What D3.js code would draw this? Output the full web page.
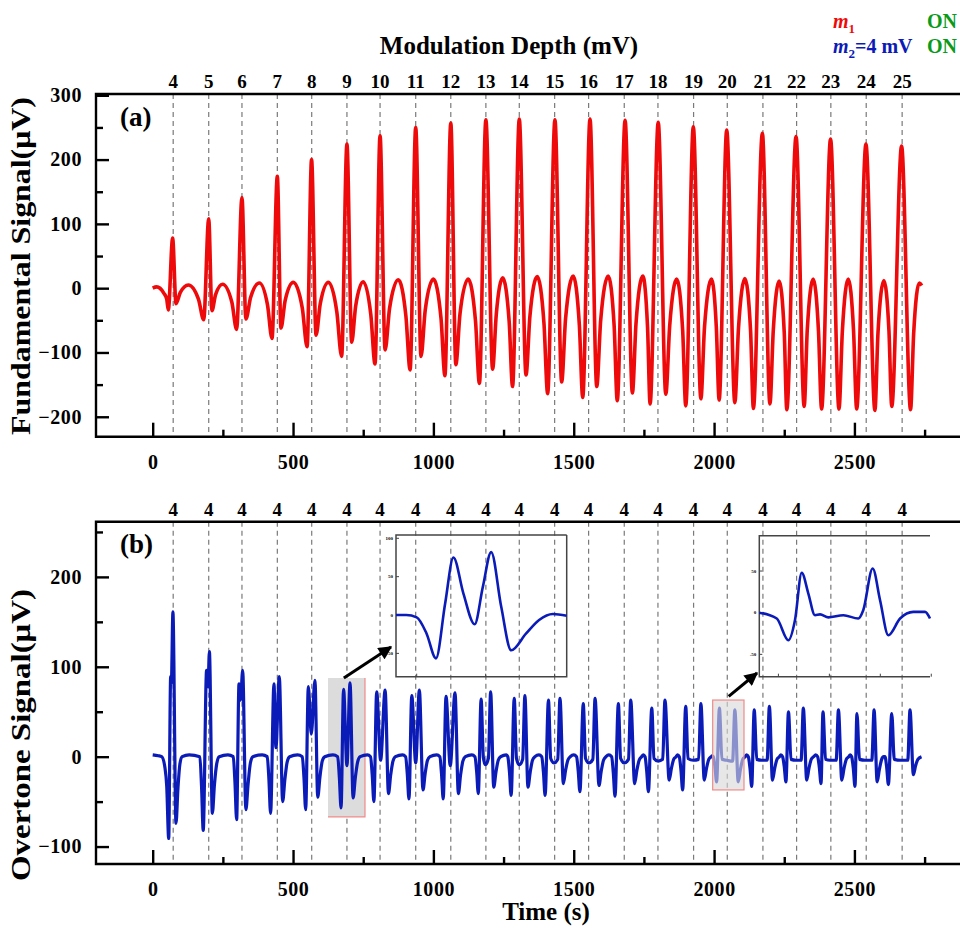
<!DOCTYPE html>
<html><head><meta charset="utf-8">
<script src="https://cdn.jsdelivr.net/npm/d3@7"></script>
<style>
body{margin:0;background:#fff}
svg{display:block}
text{font-family:"Liberation Serif","Times New Roman",serif;font-weight:bold;fill:#000}
</style></head>
<body><svg id="c" width="960" height="926"></svg>
<script>
// ---------------- data ----------------
const depthTimes = [73,199.6,318,444,566.5,692,810,937,1062,1187,1306,1432,1553,1680,1800,1927,2047,2174,2294,2416,2542,2670];
const depthLabelsA = ["4","5","6","7","8","9","10","11","12","13","14","15","16","17","18","19","20","21","22","23","24","25"];
const depthLabelsB = ["4","4","4","4","4","4","4","4","4","4","4","4","4","4","4","4","4","4","4","4","4","4"];
const xTicks = [0,500,1000,1500,2000,2500];
const xMinorTicks = [250,750,1250,1750,2250,2750];
const yTicksA = [300,200,100,0,-100,-200];
const yMinorA = [250,150,50,-50,-150];
const yTicksB = [200,100,0,-100];
const yMinorB = [250,150,50,-50];

// Fundamental signal (a): [time s, µV]
const fundamental = [[0,0],[14,2],[40,-8],[50,-17],[55.6,-34],[71,78],[83,-24],[98,-7],[127,5],[163,-17],[181.7,-49],[199.5,108],[211,-35],[224,-10],[249,6],[282,-22],[299,-64],[318,141],[332,-48],[349,-14],[380,8],[409,-26],[425,-78],[444,174],[457,-62],[472,-19],[501,9],[533,-31],[550,-91],[566,200],[582,-73],[597,-24],[626,9],[656,-37],[673,-106],[692,224],[709,-84],[723,-28],[750,10],[777,-41],[792,-118],[810,237],[828,-96],[844,-31],[875,13],[902,-43],[917,-127],[937,250],[956,-106],[971,-34],[1000,14],[1027,-46],[1041,-136],[1062,257],[1080,-119],[1095,-39],[1124,14],[1150,-51],[1164,-148],[1187,262],[1211,-126],[1224,-41],[1247,16],[1270,-52],[1282,-153],[1306,263],[1330,-135],[1344,-43],[1370,18],[1394,-55],[1407,-164],[1433,262],[1457,-146],[1471,-47],[1498,19],[1520,-57],[1532,-170],[1558,263],[1582,-153],[1596,-50],[1623,19],[1644,-59],[1655,-175],[1683,261],[1709,-163],[1722,-54],[1746,19],[1763,-61],[1772,-180],[1801,258],[1828,-165],[1842,-58],[1867,14],[1888,-65],[1899,-183],[1926,251],[1953,-172],[1966,-60],[1991,14],[2008,-61],[2018,-174],[2045,246],[2074,-178],[2087,-62],[2110,15],[2130,-66],[2140,-187],[2172,241],[2199,-180],[2211,-65],[2232,11],[2250,-69],[2259,-189],[2292,236],[2321,-184],[2332,-65],[2353,14],[2372,-67],[2383,-188],[2415,232],[2445,-188],[2457,-67],[2478,14],[2497,-67],[2508,-188],[2541,224],[2573,-190],[2584,-69],[2605,12],[2623,-66],[2633,-184],[2668,221],[2700,-189],[2711,-71],[2731,8],[2740,4]];

// Overtone signal (b): [time s, µV]
const overtone = [[0,2],[20,1],[32,0],[44,-13],[50,-33],[57,-91],[64,89],[66.5,82],[72,161],[83,-74],[90,-35],[97,-8],[105,0],[130,2],
[168,0],[174,-33],[180,-82],[192,96],[197,78],[202,117],[212.5,-63],[220,-31],[228,-8],[237,0],[268,2],
[287,0],[293,-28],[299,-70],[307.5,81],[313,63],[320.5,96],[332,-59],[340,-30],[348,-7],[357,0],[390,2],
[408,0],[414,-25],[420,-63],[432,81],[439,10],[451,89],[463,-50],[471,-25],[479,-6],[488,0],[516,2],
[533,0],[539,-24],[545,-59],[554.5,78],[565,25],[578,85],[588,-45],[596,-22],[604,-5],[613,0],[642,2],
[659,0],[665,-23],[671,-57],[680,75],[692,-10],[703,82],[714,-46],[722,-23],[730,-6],[739,0],[765,2],
[776,0],[782,-20],[788,-50],[798,72],[812,-4],[828,74],[840,-41],[848,-20],[856,-5],[865,0],[890,2],
[901,0],[907,-19],[913,-47],[923,68],[937,-7],[950,74],[963,-37],[971,-18],[979,-4],[988,0],[1012,2],
[1023,0],[1029,-19],[1035,-47],[1045,67],[1060,-10],[1077,71],[1089,-41],[1097,-20],[1105,-5],[1114,0],[1137,2],
[1148,0],[1154,-16],[1160,-41],[1170,64],[1178,-1],[1185,-9],[1196,-2],[1204,72],[1215,-34],[1223,-17],[1231,-4],[1240,0],[1260,2],
[1265,0],[1271,-17],[1277,-43],[1288,65],[1296,-2],[1306,-9],[1318,-3],[1326,68],[1337,-34],[1345,-17],[1353,-4],[1362,0],[1376,2],
[1386,0],[1392,-17],[1398,-43],[1410,63],[1418,-2],[1430,-7],[1443,-3],[1451,65],[1463,-30],[1471,-15],[1479,-4],[1488,0],[1500,2],
[1510,0],[1516,-16],[1522,-39],[1534,59],[1542,-2],[1554,-7],[1568,-3],[1576,65],[1590,-32],[1598,-16],[1606,-4],[1615,0],[1625,2],
[1635,0],[1641,-18],[1647,-44],[1659,59],[1667,-2],[1680,-7],[1695,-3],[1703,63],[1717,-30],[1725,-15],[1733,-4],[1742,0],[1748,2],
[1754,0],[1760,-16],[1766,-39],[1778,54],[1786,-2],[1801,-5],[1817,-3],[1825,63],[1840,-26],[1848,-13],[1856,-3],[1865,0],[1870,2],
[1876,0],[1882,-15],[1888,-37],[1899,56],[1907,-2],[1926,-4],[1945,-3],[1953,59],[1965,-26],[1973,-13],[1981,-3],[1990,0],[1993,1],
[1997,0],[2003,-11],[2009,-28],[2019,54],[2028,-3],[2045,-4],[2066,-5],[2074,52],[2086,-28],[2094,-14],[2102,-3],[2111,0],[2116,2],
[2122,0],[2128,-13],[2134,-33],[2143,52],[2152,-3],[2170,-4],[2189,-4],[2197,56],[2208,-26],[2216,-13],[2224,-3],[2233,0],[2238,2],
[2244,0],[2250,-11],[2256,-28],[2265,50],[2274,-3],[2292,-4],[2310,-4],[2318,54],[2330,-26],[2338,-13],[2346,-3],[2355,0],[2362,2],
[2369,0],[2375,-12],[2381,-30],[2388,50],[2397,-3],[2413,-4],[2435,-4],[2443,52],[2455,-26],[2463,-13],[2471,-3],[2480,0],[2485,2],
[2490,0],[2496,-13],[2502,-33],[2509,48],[2518,-3],[2538,-4],[2562,-4],[2570,52],[2581,-28],[2589,-14],[2597,-3],[2604,0],
[2609,0],[2615,-12],[2621,-31],[2633,48],[2642,-3],[2665,-4],[2690,-4],[2698,52],[2710,-20],[2718,-10],[2726,-3],[2739,0]];

// Inset zooms of the overtone signal
const inset1 = [[648,0],[654,0],[660,-3],[665.7,-24],[671.2,-56.5],[676.5,15],[681.3,75],[687.1,28],[693.6,-12],[698.4,37],[703.2,82],[709,11],[714.8,-46],[723.5,-24],[731,-6.5],[739,1.3],[747,-1]];
const inset2 = [[1985,0],[1998.7,-7],[2007.8,-33],[2013,-9],[2018.3,48],[2023.5,23],[2028.7,-3],[2032.7,-2],[2039.2,-5.6],[2051,-3],[2062.7,-7],[2066.6,3],[2074,53],[2079.8,15],[2086.3,-27],[2095.5,-7],[2105.9,1],[2115.1,1],[2119,-7]];
const inset1Ticks = [100,50,0,-50];
const inset2Ticks = [50,0,-50];
const inset1XTicks = [660,700,740];
const inset2XTicks = [2000,2040,2080,2120];
const zoomBox1 = {t0:624.5, t1:756.3, v0:-67, v1:87.5};
const zoomBox2 = {t0:1995, t1:2106.6, v0:-37, v1:63};

// ---------------- drawing ----------------
const svg = d3.select("#c");
const RED = "#ee0a0a", BLUE = "#0b1bb8", GREEN = "#0a9a1a";
const x = d3.scaleLinear().domain([-202, 2869]).range([96, 958]);
const yA = d3.scaleLinear().domain([-231, 302]).range([436.7, 94]);
const yB = d3.scaleLinear().domain([-119.4, 261.4]).range([864, 521.7]);

function panel(y, series, color, lw, yMajor, yMinor, labels, tag, tagY, topLabelY, drawSeries) {
  const [yb, yt] = y.range();
  const g = svg.append("g");
  // dashed lines
  g.selectAll("line.dash").data(depthTimes).join("line")
    .attr("x1", d => x(d)).attr("x2", d => x(d)).attr("y1", yt).attr("y2", yb)
    .attr("stroke", "#7a7a7a").attr("stroke-width", 1.2).attr("stroke-dasharray", "5,4");
  // top labels
  g.selectAll("text.top").data(depthTimes).join("text")
    .attr("x", d => x(d)).attr("y", topLabelY).attr("text-anchor", "middle")
    .attr("font-size", 19).text((d, i) => labels[i]);
  // x axis ticks
  const ax = g.append("g").attr("transform", `translate(0,${yb})`)
    .call(d3.axisBottom(x).tickValues(xTicks).tickSize(-14).tickPadding(18).tickFormat(d3.format("d")));
  ax.select(".domain").remove();
  ax.selectAll("line").attr("stroke", "#000").attr("stroke-width", 2.4);
  ax.selectAll("text").attr("font-size", 20).attr("font-family", '"Liberation Serif",serif').attr("font-weight", "bold").attr("letter-spacing", 0.6);
  const axm = g.append("g").attr("transform", `translate(0,${yb})`)
    .call(d3.axisBottom(x).tickValues(xMinorTicks).tickSize(-7).tickFormat(""));
  axm.select(".domain").remove();
  axm.selectAll("line").attr("stroke", "#000").attr("stroke-width", 2.4);
  // y axis ticks
  const ay = g.append("g").attr("transform", `translate(96,0)`)
    .call(d3.axisLeft(y).tickValues(yMajor).tickSize(-13).tickPadding(14).tickFormat(d3.format("d")));
  ay.select(".domain").remove();
  ay.selectAll("line").attr("stroke", "#000").attr("stroke-width", 2.4);
  ay.selectAll("text").attr("font-size", 20).attr("font-family", '"Liberation Serif",serif').attr("font-weight", "bold").attr("letter-spacing", 0.6);
  const aym = g.append("g").attr("transform", `translate(96,0)`)
    .call(d3.axisLeft(y).tickValues(yMinor).tickSize(-7).tickFormat(""));
  aym.select(".domain").remove();
  aym.selectAll("line").attr("stroke", "#000").attr("stroke-width", 2.4);
  // series
  if (drawSeries) drawSeries(g);
  g.append("path").datum(series)
    .attr("d", d3.line().x(d => x(d[0])).y(d => y(d[1])).curve(d3.curveMonotoneX))
    .attr("fill", "none").attr("stroke", color).attr("stroke-width", lw).attr("stroke-linejoin", "round");
  // frame
  g.append("path").attr("d", `M960,${yt}H96V${yb}H960`).attr("fill", "none").attr("stroke", "#000").attr("stroke-width", 2.4);
  g.append("text").attr("x", 120).attr("y", tagY).attr("font-size", 27).text(tag);
  return g;
}

// panel (a)
panel(yA, fundamental, RED, 3.6, yTicksA, yMinorA, depthLabelsA, "(a)", 126, 88);
// panel (b)
const gB = panel(yB, overtone, BLUE, 3.2, yTicksB, yMinorB, depthLabelsB, "(b)", 553, 516, g => {
  g.append("rect").attr("x", x(zoomBox1.t0)).attr("y", yB(zoomBox1.v1))
    .attr("width", x(zoomBox1.t1) - x(zoomBox1.t0)).attr("height", yB(zoomBox1.v0) - yB(zoomBox1.v1))
    .attr("fill", "#dcdcdc");
  g.append("path").attr("d", `M${x(zoomBox1.t1)},${yB(zoomBox1.v1)}V${yB(zoomBox1.v0)}H${x(zoomBox1.t0)}`)
    .attr("fill", "none").attr("stroke", "#f08a8a").attr("stroke-width", 1.2);
});
// box 2 on top of the curve
gB.append("rect").attr("x", x(zoomBox2.t0)).attr("y", yB(zoomBox2.v1))
  .attr("width", x(zoomBox2.t1) - x(zoomBox2.t0)).attr("height", yB(zoomBox2.v0) - yB(zoomBox2.v1))
  .attr("fill", "#d8d8d8").attr("fill-opacity", 0.62).attr("stroke", "#f08a8a").attr("stroke-width", 1.2);

// insets
function inset(data, xd, xr, yd, yr, yt, xt, rightBorder) {
  const ix = d3.scaleLinear().domain(xd).range(xr);
  const iy = d3.scaleLinear().domain(yd).range(yr);
  const g = svg.append("g");
  g.append("path").attr("d", `M${xr[1]},${yr[1]}H${xr[0]}V${yr[0]}H${xr[1]}` + (rightBorder ? `V${yr[1]}` : ""))
    .attr("fill", "none").attr("stroke", "#444").attr("stroke-width", 1.5);
  g.selectAll("line.yt").data(yt).join("line")
    .attr("x1", xr[0]).attr("x2", xr[0] + 3).attr("y1", d => iy(d)).attr("y2", d => iy(d))
    .attr("stroke", "#444").attr("stroke-width", 1);
  g.selectAll("text.yt").data(yt).join("text")
    .attr("x", xr[0] - 3).attr("y", d => iy(d) + 1.5).attr("text-anchor", "end")
    .attr("font-size", 5).attr("font-weight", "normal").attr("fill", "#555").text(d => d);
  g.selectAll("line.xt").data(xt).join("line")
    .attr("x1", d => ix(d)).attr("x2", d => ix(d)).attr("y1", yr[0]).attr("y2", yr[0] - 3)
    .attr("stroke", "#444").attr("stroke-width", 1);
  g.append("path").datum(data)
    .attr("d", d3.line().x(d => ix(d[0])).y(d => iy(d[1])).curve(d3.curveMonotoneX))
    .attr("fill", "none").attr("stroke", BLUE).attr("stroke-width", 2.6);
  return {ix, iy};
}
inset(inset1, [648, 747], [396, 566.7], [-80.4, 104.3], [676.7, 535], inset1Ticks, inset1XTicks, true);
inset(inset2, [1985, 2119], [759.3, 930], [-76.8, 92.4], [676.7, 535.7], inset2Ticks, inset2XTicks, false);

// arrows
svg.append("defs").append("marker").attr("id", "ah").attr("viewBox", "0 0 10 10")
  .attr("refX", 9).attr("refY", 5).attr("markerWidth", 5).attr("markerHeight", 4.5)
  .attr("orient", "auto").attr("markerUnits", "strokeWidth")
  .append("path").attr("d", "M0,0L10,5L0,10z").attr("fill", "#000");
function arrow(x1, y1, x2, y2) {
  svg.append("line").attr("x1", x1).attr("y1", y1).attr("x2", x2).attr("y2", y2)
    .attr("stroke", "#000").attr("stroke-width", 3).attr("marker-end", "url(#ah)");
}
arrow(x(681), yB(87.5), 391, 647);
arrow(x(2052), yB(67), 757, 673);

// titles
svg.append("text").attr("x", 509).attr("y", 54).attr("text-anchor", "middle").attr("font-size", 25).text("Modulation Depth (mV)");
svg.append("text").attr("x", 546).attr("y", 920).attr("text-anchor", "middle").attr("font-size", 25).text("Time (s)");
svg.append("text").attr("transform", "translate(30,266) rotate(-90)").attr("text-anchor", "middle")
  .attr("font-size", 27).attr("textLength", 338).attr("lengthAdjust", "spacingAndGlyphs").text("Fundamental Signal(μV)");
svg.append("text").attr("transform", "translate(30,735) rotate(-90)").attr("text-anchor", "middle")
  .attr("font-size", 27).attr("textLength", 292).attr("lengthAdjust", "spacingAndGlyphs").text("Overtone Signal(μV)");

// legend
const l1 = svg.append("text").attr("x", 833).attr("y", 28).attr("font-size", 20).attr("fill", RED);
l1.append("tspan").attr("font-style", "italic").attr("fill", RED).text("m");
l1.append("tspan").attr("font-size", 13).attr("dy", 5).attr("fill", RED).text("1");
svg.append("text").attr("x", 927).attr("y", 28).attr("font-size", 20).attr("fill", GREEN).style("fill", GREEN).text("ON");
const l2 = svg.append("text").attr("x", 833).attr("y", 53).attr("font-size", 20);
l2.append("tspan").attr("font-style", "italic").style("fill", BLUE).text("m");
l2.append("tspan").attr("font-size", 13).attr("dy", 5).style("fill", BLUE).text("2");
l2.append("tspan").attr("dy", -5).style("fill", BLUE).text("=4 mV");
svg.append("text").attr("x", 927).attr("y", 53).attr("font-size", 20).style("fill", GREEN).text("ON");
</script>
</body></html>
